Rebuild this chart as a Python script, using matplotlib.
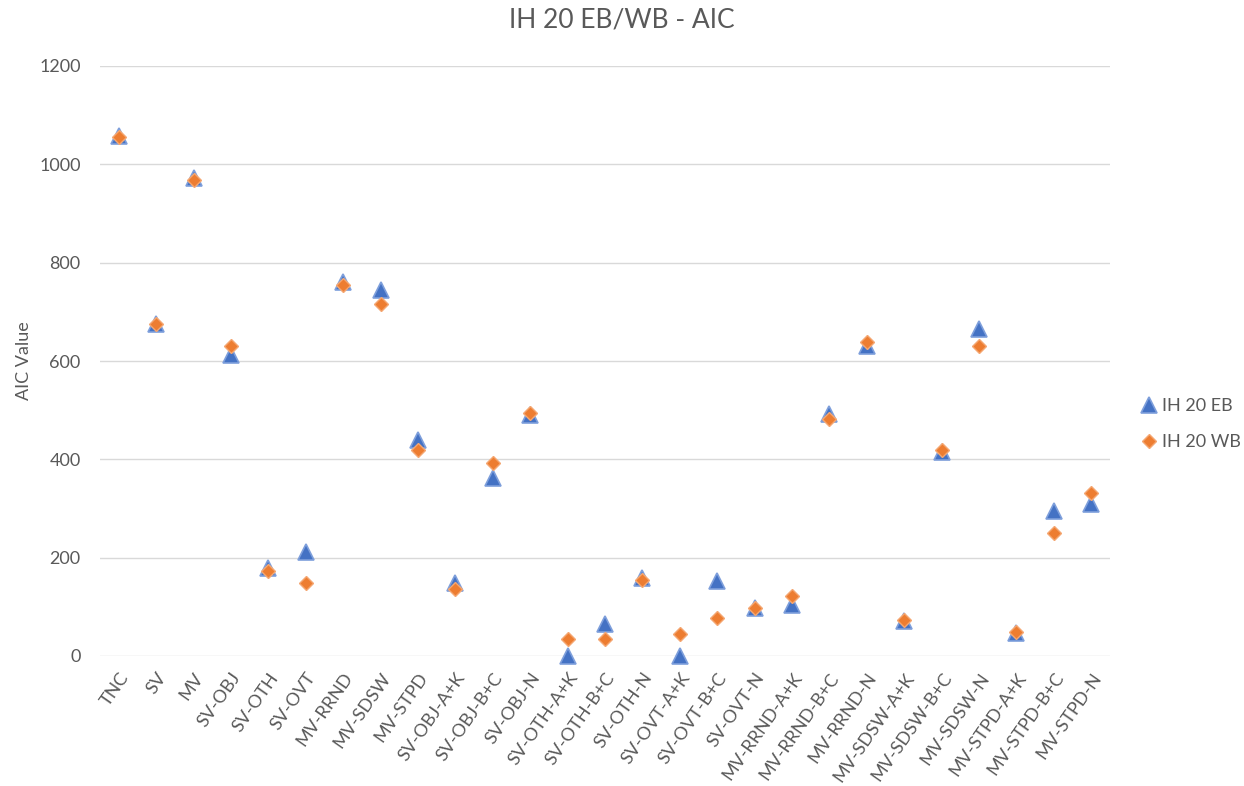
import matplotlib
matplotlib.use("Agg")
import matplotlib.pyplot as plt

categories = ["TNC", "SV", "MV", "SV-OBJ", "SV-OTH", "SV-OVT", "MV-RRND", "MV-SDSW",
              "MV-STPD", "SV-OBJ-A+K", "SV-OBJ-B+C", "SV-OBJ-N", "SV-OTH-A+K",
              "SV-OTH-B+C", "SV-OTH-N", "SV-OVT-A+K", "SV-OVT-B+C", "SV-OVT-N",
              "MV-RRND-A+K", "MV-RRND-B+C", "MV-RRND-N", "MV-SDSW-A+K", "MV-SDSW-B+C",
              "MV-SDSW-N", "MV-STPD-A+K", "MV-STPD-B+C", "MV-STPD-N"]
eb_values = [1058, 675, 972, 613, 178, 212, 760, 745, 440, 148, 362, 490, 0, 65, 158,
             0, 153, 97, 103, 492, 630, 72, 415, 665, 47, 295, 310]
wb_values = [1055, 675, 968, 630, 172, 148, 755, 715, 418, 137, 392, 495, 35, 35, 155,
             45, 78, 98, 123, 482, 638, 73, 420, 630, 48, 250, 332]
yticks = [0, 200, 400, 600, 800, 1000, 1200]

plt.rcParams['font.family'] = ['Lato', 'DejaVu Sans']
gray = "#595959"

fig = plt.figure(figsize=(12.44, 7.86), dpi=100)
ax = fig.add_axes([100/1244, 1-656/786, 1010/1244, 590/786])

x = list(range(len(categories)))
ax.plot(x, eb_values, linestyle="none", marker="^", markersize=12,
        markerfacecolor="#4472C4", markeredgecolor="#7E9FDB", markeredgewidth=1.2,
        label="IH 20 EB", clip_on=False, zorder=3)
ax.plot(x, wb_values, linestyle="none", marker="D", markersize=7.5,
        markerfacecolor="#ED7D31", markeredgecolor="#F4A772", markeredgewidth=1.0,
        label="IH 20 WB", clip_on=False, zorder=4)

ax.set_xlim(-0.5, len(categories) - 0.5)
ax.set_ylim(0, 1200)
ax.set_yticks(yticks)
ax.set_yticklabels([str(v) for v in yticks], fontsize=13, color=gray)
ax.set_xticks(x)
ax.set_xticklabels(categories, rotation=55, ha="right", rotation_mode="anchor",
                   fontsize=13, color=gray)
ax.tick_params(axis="both", length=0)
ax.tick_params(axis="y", pad=14)
ax.tick_params(axis="x", pad=10)
ax.grid(axis="y", color="#d9d9d9", linewidth=1)
ax.set_axisbelow(True)
for s in ax.spines.values():
    s.set_visible(False)

ax.set_ylabel("AIC Value", fontsize=13, color=gray, labelpad=5)
fig.text(0.5, 1-20/786, "IH 20 EB/WB - AIC", ha="center", va="center",
         fontsize=19, color=gray)

leg = ax.legend(loc="center left", bbox_to_anchor=(1.012, 0.393), frameon=False,
                fontsize=13, handletextpad=0.1, labelspacing=1.1, handlelength=1.2,
                labelcolor=gray)

fig.savefig("out.png", dpi=100)
